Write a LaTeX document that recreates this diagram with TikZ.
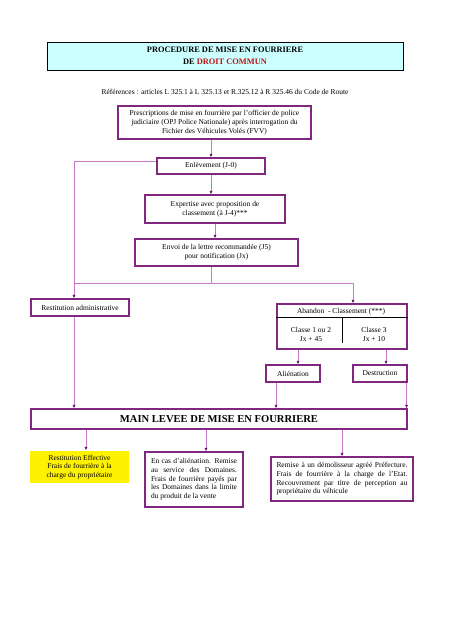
\documentclass[tikz,border=0pt]{standalone}
\usepackage{fontspec}
\setmainfont{Liberation Serif}
\usetikzlibrary{arrows.meta,calc}

\definecolor{boxpurple}{RGB}{128,40,128}
\definecolor{linkpurple}{RGB}{200,120,200}
\definecolor{tippurple}{RGB}{100,20,100}
\definecolor{titlecyan}{RGB}{204,255,255}
\definecolor{titlered}{RGB}{190,20,20}

\begin{document}
\begin{tikzpicture}[x=1bp,y=-1bp,
  box/.style={draw=boxpurple,line width=1.1bp,inner sep=2bp,align=center,
    font=\fontsize{7.5}{8.7}\selectfont},
  txt/.style={inner sep=0pt,align=center,font=\fontsize{7.5}{8.7}\selectfont},
  link/.style={draw=linkpurple,line width=1bp},
  arr/.style={link,-{Latex[length=3.5bp,width=3bp,color=tippurple]}}]
  \useasboundingbox (0,0) rectangle (452,640);

  \node[draw=black,line width=0.7bp,fill=titlecyan,minimum width=356bp,minimum height=28bp,
    align=center,font=\bfseries\fontsize{8.4}{12}\selectfont] (title) at (225,56)
    {PROCEDURE DE MISE EN FOURRIERE\\DE \textcolor{titlered}{DROIT COMMUN}};
  \node[txt] (refs) at (225,92) {Références : articles L 325.1 à L 325.13 et R.325.12 à R 325.46 du Code de Route};

  \node[box,minimum width=193bp,minimum height=33bp] (presc) at (214.5,122.5)
    {Prescriptions de mise en fourrière par l’officier de police\\judiciaire (OPJ Police Nationale) après interrogation du\\Fichier des Véhicules Volés (FVV)};
  \node[box,minimum width=108bp,minimum height=16bp] (enlev) at (211,166) {Enlèvement (J-0)};
  \node[box,minimum width=140bp,minimum height=28bp] (expert) at (215,209)
    {Expertise avec proposition de\\classement (à J-4)***};
  \node[box,minimum width=163bp,minimum height=27bp] (envoi) at (216.5,252.5)
    {Envoi de la lettre recommandée (J5)\\pour notification (Jx)};

  \node[box,minimum width=98bp,minimum height=17bp] (restadm) at (80,307.5) {Restitution administrative};

  \node[box,minimum width=130bp,minimum height=45bp] (abandon) at (342,326.5) {};
  \draw[line width=0.8bp] (abandon.west |- 0,317) -- (abandon.east |- 0,317);
  \draw[line width=0.8bp] (342,317) -- (342,343);
  \node[txt] (abtitle) at (341,311.5) {Abandon~~- Classement (***)};
  \node[txt] (cl12) at (311,334.5) {Classe 1 ou 2\\Jx + 45};
  \node[txt] (cl3) at (374,334.5) {Classe 3\\Jx + 10};

  \node[box,minimum width=54bp,minimum height=17bp] (alien) at (293,373.5) {Aliénation};
  \node[box,minimum width=54bp,minimum height=17bp] (destr) at (380,373.5) {Destruction};

  \node[box,minimum width=376bp,minimum height=20bp,font=\bfseries\fontsize{10.6}{12}\selectfont] (main) at (219,419)
    {MAIN LEVEE DE MISE EN FOURRIERE};

  \node[box,draw=none,fill=yellow,minimum width=99bp,minimum height=32bp] (effect) at (79.5,467)
    {Restitution Effective\\Frais de fourrière à la\\charge du propriétaire};
  \node[box,text width=86bp,inner xsep=6bp,minimum height=55bp,align=justify] (domaines) at (194,479.5)
    {En cas d’aliénation. Remise\linebreak au service des Domaines.\linebreak Frais de fourrière payés par\linebreak les Domaines dans la limite\linebreak du produit de la vente};
  \node[box,text width=131bp,inner xsep=5.5bp,minimum height=44bp,align=justify] (demol) at (342,479)
    {Remise à un démolisseur agréé Préfecture.\linebreak Frais de fourrière à la charge de l’Etat.\linebreak Recouvrement par titre de perception au\linebreak propriétaire du véhicule};

  % junctions
  \coordinate (split) at (211,283);
  \coordinate (splitL) at (74,283);
  \coordinate (splitR) at (353,283);

  \draw[arr] (enlev.north |- presc.south) -- (enlev.north);
  \draw[arr] (enlev.south) -- (enlev.south |- expert.north);
  \draw[arr] (expert.south) -- (expert.south |- envoi.north);
  \draw[link] (envoi.south -| split) -- (split);
  \draw[link] ($(enlev.west)+(0,-4)$) -| (splitL);
  \draw[link] (splitL) -- (splitR);
  \draw[arr] (splitL) -- (splitL |- restadm.north);
  \draw[arr] (splitR) -- (splitR |- abandon.north);

  \draw[arr] ([xshift=5bp]alien.north |- abandon.south) -- ([xshift=5bp]alien.north);
  \draw[arr] ([xshift=6bp]destr.north |- abandon.south) -- ([xshift=6bp]destr.north);

  \draw[arr] (restadm.south -| splitL) -- (splitL |- main.north);
  \draw[arr] ([xshift=-17bp]alien.south) -- ([xshift=-17bp]alien.south |- main.north);
  \draw[arr] ([xshift=-1bp]destr.south east) -- ([xshift=-1bp]destr.south east |- main.north);

  \draw[arr] ([xshift=6.5bp]effect.north |- main.south) -- ([xshift=6.5bp]effect.north);
  \draw[arr] ([xshift=12bp]domaines.north |- main.south) -- ([xshift=12bp]domaines.north);
  \draw[arr] (demol.north |- main.south) -- (demol.north);
\end{tikzpicture}
\end{document}
